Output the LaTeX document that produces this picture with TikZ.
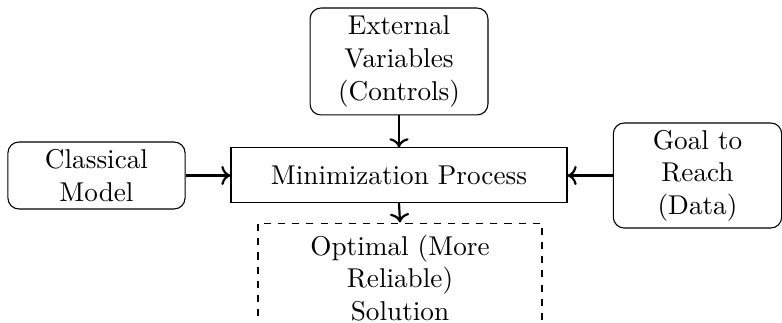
\documentclass[tikz,border=0pt]{standalone}
\usetikzlibrary{arrows.meta}
\begin{document}
\begin{tikzpicture}[x=0.3676pt,y=-0.3676pt,
  box/.style={draw, line width=0.4pt, align=center, inner sep=0pt, font=\normalsize},
  rbox/.style={box, rounded corners=4pt},
  dbox/.style={box, dash pattern=on 2.6pt off 2.6pt},
  conn/.style={->, thick}]
\clip (0,0) rectangle (782,323);
\node[rbox, minimum width=65.4pt, minimum height=39.3pt] (ext) at (399,61.5) {External\\Variables\\(Controls)};
\node[rbox, minimum width=65.1pt, minimum height=24.6pt] (cls) at (96.5,175.5) {Classical\\Model};
\node[rbox, minimum width=61.9pt, minimum height=38.6pt] (goal) at (697.5,175.5) {Goal to\\Reach\\(Data)};
\node[box, minimum width=123.5pt, minimum height=19.9pt] (min) at (399,175) {Minimization Process};
\node[dbox, minimum width=104.4pt, minimum height=40.4pt] (opt) at (400,278) {Optimal (More\\Reliable)\\Solution};
\draw[conn] (ext.south) -- (min.north);
\draw[conn] (cls.east) -- (min.west |- cls.east);
\draw[conn] (goal.west) -- (min.east |- goal.west);
\draw[conn] (min.south) -- (opt.north);
\end{tikzpicture}
\end{document}
